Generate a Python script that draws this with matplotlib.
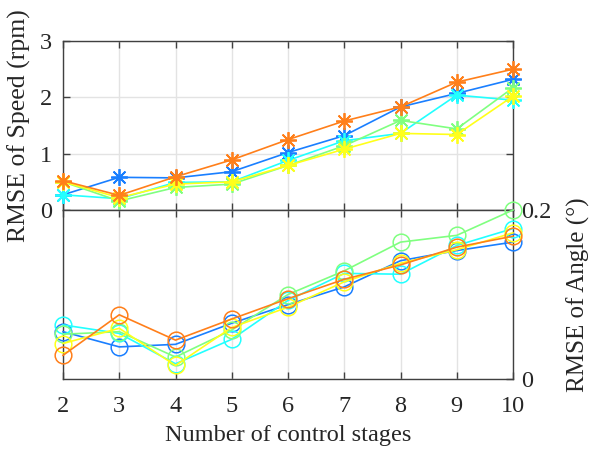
import matplotlib
matplotlib.use("Agg")
import matplotlib.pyplot as plt

plt.rcParams['font.family'] = ['Liberation Serif', 'DejaVu Serif']
plt.rcParams['mathtext.fontset'] = 'stix'

stages = [2, 3, 4, 5, 6, 7, 8, 9, 10]

# RMSE of speed (rpm), top panel
speed_blue = [0.27, 0.58, 0.57, 0.68, 1.02, 1.32, 1.83, 2.07, 2.32]
speed_cyan = [0.27, 0.20, 0.49, 0.50, 0.88, 1.23, 1.36, 2.04, 1.95]
speed_green = [0.50, 0.16, 0.40, 0.46, 0.79, 1.14, 1.59, 1.44, 2.17]
speed_yellow = [0.50, 0.22, 0.46, 0.50, 0.79, 1.08, 1.36, 1.34, 2.02]
speed_orange = [0.52, 0.26, 0.59, 0.89, 1.25, 1.58, 1.83, 2.27, 2.50]

# RMSE of angle (deg), bottom panel
angle_blue = [0.056, 0.038, 0.041, 0.066, 0.088, 0.109, 0.140, 0.152, 0.162]
angle_cyan = [0.064, 0.054, 0.018, 0.047, 0.093, 0.125, 0.124, 0.158, 0.178]
angle_green = [0.053, 0.056, 0.026, 0.058, 0.100, 0.128, 0.162, 0.170, 0.200]
angle_yellow = [0.042, 0.060, 0.016, 0.061, 0.085, 0.115, 0.137, 0.153, 0.173]
angle_orange = [0.028, 0.076, 0.046, 0.071, 0.095, 0.118, 0.135, 0.156, 0.169]

colors = ['#1a7fff', '#22ffff', '#80ff80', '#ffff1a', '#ff7f1a']
speeds = [speed_blue, speed_cyan, speed_green, speed_yellow, speed_orange]
angles = [angle_blue, angle_cyan, angle_green, angle_yellow, angle_orange]

fig = plt.figure(figsize=(5.93, 4.51), dpi=100)
L, W = 63 / 593, 450 / 593
ax1 = fig.add_axes([L, 1 - 210 / 451, W, 169 / 451])
ax2 = fig.add_axes([L, 1 - 379 / 451, W, 169 / 451], sharex=ax1)

star = (8, 2, 0)
for c, s in zip(colors, speeds):
    ax1.plot(stages, s, color=c, lw=1.2, marker=star, ms=12, mew=1.3,
             clip_on=False, zorder=3)
for c, a in zip(colors, angles):
    ax2.plot(stages, a, color=c, lw=1.2, marker='o', ms=12, mfc='none',
             mew=1.1, clip_on=False, zorder=3)

spine_c = '#404040'
for ax in (ax1, ax2):
    ax.set_xlim(2, 10)
    ax.grid(True, color='#e3e3e3', lw=1.0)
    ax.set_axisbelow(True)
    for sp in ax.spines.values():
        sp.set_color(spine_c)
        sp.set_linewidth(1.0)
    ax.tick_params(direction='in', colors=spine_c, labelcolor='#262626',
                   labelsize=17.5, length=5, width=1.0,
                   top=True, bottom=True)

ax1.set_ylim(0, 3)
ax1.set_yticks([0, 1, 2, 3])
ax1.tick_params(left=True, right=True, labelbottom=False)
ax1.tick_params(axis='y', pad=8)
ax1.set_ylabel('RMSE of Speed (rpm)', fontsize=18.5, color='#262626', labelpad=6)

ax2.set_ylim(0, 0.2)
ax2.set_yticks([0, 0.2])
ax2.set_yticklabels(['0', '0.2'])
ax2.yaxis.tick_right()
ax2.yaxis.set_label_position('right')
ax2.tick_params(left=False, right=True)
ax2.tick_params(axis='y', pad=6)
ax2.set_ylabel('RMSE of Angle (°)', fontsize=18, color='#262626', labelpad=11)
ax2.set_xticks(stages)
ax2.set_xlabel('Number of control stages', fontsize=17.5, color='#262626', labelpad=6)
ax2.tick_params(axis='x', pad=12)

fig.savefig('out.png', dpi=100)
